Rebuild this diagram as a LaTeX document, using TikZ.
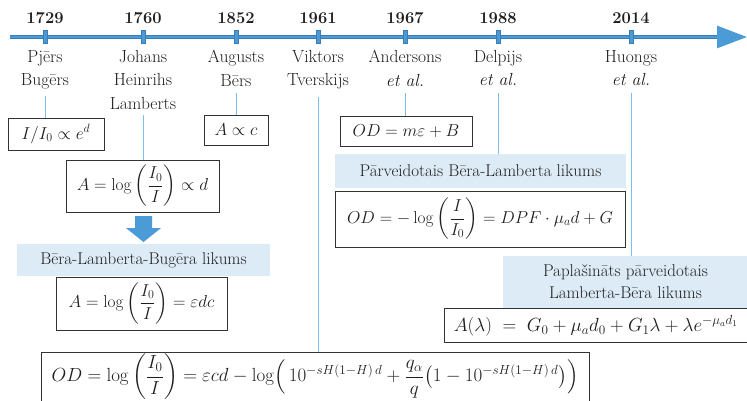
\documentclass[tikz,border=0pt]{standalone}
\usepackage{amsmath}
\usepackage{graphicx}
\usetikzlibrary{arrows.meta}
\definecolor{tl}{HTML}{4A9BD6}
\definecolor{tldark}{HTML}{3A7DB8}
\definecolor{connc}{HTML}{7DBDEA}
\definecolor{lab}{HTML}{DDEBF7}
\definecolor{txt}{HTML}{1E1E1E}
\begin{document}
\begin{tikzpicture}[x=1pt,y=-1pt,
  yearlbl/.style={font=\fontsize{16.5}{18}\selectfont\bfseries, inner sep=0pt, text=txt},
  person/.style={font=\fontsize{17.5}{23.5}\selectfont, align=center, anchor=north, inner sep=0pt, text=txt},
  eqbox/.style={draw=black!80, line width=0.8pt, inner sep=0pt, font=\fontsize{17}{19}\selectfont, text=txt},
  labelbox/.style={fill=lab, inner sep=0pt, font=\fontsize{17}{22}\selectfont, align=center, text=txt},
  connline/.style={draw=connc, line width=0.9pt},
  tickmark/.style={fill=tl, draw=tldark, line width=0.5pt, minimum width=4pt, minimum height=13pt, inner sep=0pt}
]
\useasboundingbox (0,0) rectangle (747,400);

% timeline
\coordinate (ts) at (10,37);
\coordinate (te) at (747,37);
\draw[tldark, line width=4.2pt] (ts) -- (720,37);
\draw[tl, line width=2.8pt, -{Triangle[length=30pt,width=22pt]}] (ts) -- (te);

\foreach \n/\x/\yr in {1/45/1729,2/143/1760,3/236/1852,4/318/1961,5/405/1967,6/498/1988,7/631/2014}{
  \node[tickmark] (t\n) at (\x,37) {};
  \node[yearlbl] (y\n) at (\x,18) {\yr};
}

% names
\node[person] (n1) at (45,50) {Pjērs\\Bugērs};
\node[person] (n2) at (143,50) {Johans\\Heinrihs\\Lamberts};
\node[person] (n3) at (236,50) {Augusts\\Bērs};
\node[person] (n4) at (318,50) {Viktors\\Tverskijs};
\node[person] (n5) at (405,50) {Andersons\\\textit{et al.}};
\node[person] (n6) at (498,50) {Delpijs\\\textit{et al.}};
\node[person] (n7) at (631,50) {Huongs\\\textit{et al.}};

% boxes
\node[eqbox, minimum width=96pt, minimum height=32pt] (b1) at (56,134) {$I/I_0 \propto e^{d}$};
\node[eqbox, minimum width=64pt, minimum height=30pt] (b2) at (236,130) {$A \propto c$};
\node[eqbox, minimum width=153pt, minimum height=52pt] (b3) at (142.5,186) {$A = \log\left(\dfrac{I_0}{I}\right) \propto d$};
\node[labelbox, minimum width=253pt, minimum height=32pt] (l1) at (143.5,260) {Bēra-Lamberta-Bugēra likums};
\node[eqbox, minimum width=171pt, minimum height=53pt] (b4) at (141.5,303.5) {$A = \log\left(\dfrac{I_0}{I}\right) = \varepsilon d c$};
\node[eqbox, minimum width=132pt, minimum height=30pt] (b5) at (406,131) {$OD = m\varepsilon + B$};
\node[labelbox, minimum width=291pt, minimum height=34pt] (l2) at (480.5,171) {Pārveidotais Bēra-Lamberta likums};
\node[eqbox, minimum width=290pt, minimum height=56pt] (b6) at (480,219) {$OD = -\log\left(\dfrac{I}{I_0}\right) = DPF \cdot \mu_a d + G$};
\node[labelbox, minimum width=245pt, minimum height=52pt] (l3) at (625.5,282) {Paplašināts pārveidotais\\Lamberta-Bēra likums};
\node[eqbox, minimum width=304pt, minimum height=34pt] (b7) at (596,325.5) {\scalebox{1.1}{$A(\lambda) \;=\; G_0 + \mu_a d_0 + G_1\lambda + \lambda e^{-\mu_a d_1}$}};
\node[eqbox, minimum width=548pt, minimum height=50pt] (b8) at (315,377) {\scalebox{1.1}{$OD = \log\left(\dfrac{I_0}{I}\right) = \varepsilon c d - \log\Bigl(\,10^{-sH(1-H)\,d} + \dfrac{q_\alpha}{q}\bigl(1 - 10^{-sH(1-H)\,d}\bigr)\Bigr)$}};

% down arrow
\fill[tl] (135,216) -- (152,216) -- (152,228) -- (161,228) -- (143.5,242) -- (126,228) -- (135,228) -- cycle;

% connectors
\draw[connline] ([yshift=-7pt]n1.south) -- (n1.south |- b1.north);
\draw[connline] ([yshift=-5pt]n2.south) -- (n2.south |- b3.north);
\draw[connline] ([yshift=-7pt]n3.south) -- (n3.south |- b2.north);
\draw[connline] ([yshift=-7pt]n4.south) -- (n4.south |- b8.north);
\draw[connline] ([yshift=-7pt]n5.south) -- (n5.south |- b5.north);
\draw[connline] ([yshift=-7pt]n6.south) -- (n6.south |- l2.north);
\draw[connline] ([yshift=-7pt]n7.south) -- (n7.south |- l3.north);
\end{tikzpicture}
\end{document}
